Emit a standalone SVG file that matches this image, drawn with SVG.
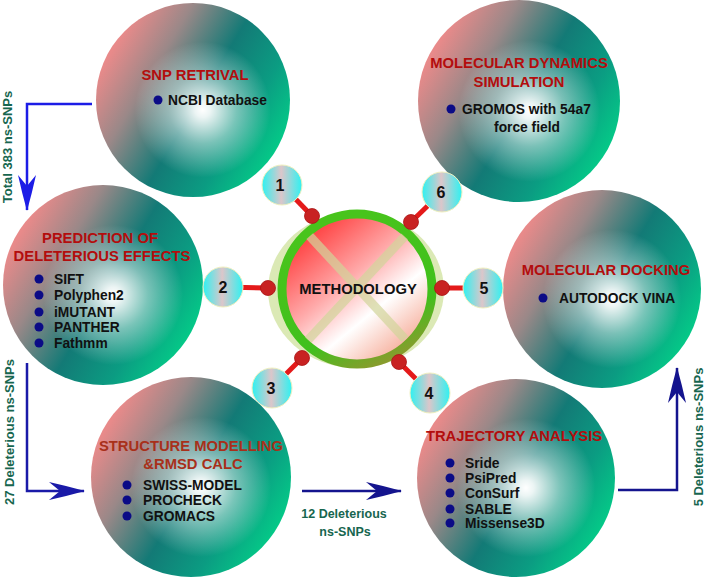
<svg xmlns="http://www.w3.org/2000/svg" width="708" height="577" viewBox="0 0 708 577">
<defs>
<style>
.t{font-family:"Liberation Sans",Arial,sans-serif;font-weight:bold}
.title{font-size:14.8px;fill:#b30d0d;text-anchor:middle}
.title2{font-size:14.8px;fill:#a8301a;text-anchor:middle}
.item{font-size:13.8px;fill:#111}
.lbl{font-size:13px;fill:#17664f;text-anchor:middle}
.num{font-size:16px;fill:#111;text-anchor:middle}
.bul{fill:#0b0b86}
.spoke{stroke:#e41a1a;stroke-width:5}
.dot{fill:#c82222;stroke:#a81414;stroke-width:0.8}
.bub{fill:url(#gBub);stroke:#f0f0c0;stroke-width:1}
.big{fill:url(#gBase)}
.hl{fill:url(#gWhite)}
.arrA{fill:none;stroke:#1c1ce6;stroke-width:2.5}
.arrB{fill:none;stroke:#1a1aa8;stroke-width:2.5}
.arrC{fill:none;stroke:#14148e;stroke-width:2.5}
</style>
<linearGradient id="gBase" x1="0" y1="0.25" x2="1" y2="0.85">
<stop offset="0.06" stop-color="#e88a8a"/>
<stop offset="0.26" stop-color="#9a8888"/>
<stop offset="0.5" stop-color="#137a76"/>
<stop offset="0.72" stop-color="#0b9c82"/>
<stop offset="0.92" stop-color="#04cc88"/>
</linearGradient>
<radialGradient id="gWhite" cx="0.55" cy="0.55" r="0.5">
<stop offset="0" stop-color="#ffffff" stop-opacity="1"/>
<stop offset="0.08" stop-color="#ffffff" stop-opacity="0.92"/>
<stop offset="0.35" stop-color="#ffffff" stop-opacity="0.45"/>
<stop offset="0.7" stop-color="#ffffff" stop-opacity="0"/>
</radialGradient>
<linearGradient id="gBub" x1="0" y1="0" x2="1" y2="0">
<stop offset="0" stop-color="#2ef2f2"/>
<stop offset="0.48" stop-color="#dcc6ca"/>
<stop offset="1" stop-color="#2ef2f2"/>
</linearGradient>
<linearGradient id="gInner" x1="0.15" y1="0.1" x2="0.85" y2="0.95">
<stop offset="0" stop-color="#ff3838"/>
<stop offset="0.4" stop-color="#ffaaaa"/>
<stop offset="0.65" stop-color="#ffffff"/>
<stop offset="1" stop-color="#f5a08a"/>
</linearGradient>
<linearGradient id="gRing" x1="0.3" y1="0.1" x2="0.7" y2="1">
<stop offset="0" stop-color="#48c41c"/>
<stop offset="0.7" stop-color="#40c01c"/>
<stop offset="1" stop-color="#8c9a2e"/>
</linearGradient>
<clipPath id="cpInner"><circle cx="357" cy="289" r="71"/></clipPath>
<marker id="ahA" markerUnits="userSpaceOnUse" markerWidth="36" markerHeight="18" refX="35" refY="9" orient="auto" overflow="visible">
<path d="M36,9 Q18,4 0,0 L11,9 L0,18 Q18,14 36,9 Z" fill="#1c1ce6"/>
</marker>
<marker id="ahB" markerUnits="userSpaceOnUse" markerWidth="36" markerHeight="18" refX="35" refY="9" orient="auto" overflow="visible">
<path d="M36,9 Q18,4 0,0 L11,9 L0,18 Q18,14 36,9 Z" fill="#1a1aa8"/>
</marker>
<marker id="ahC" markerUnits="userSpaceOnUse" markerWidth="36" markerHeight="18" refX="35" refY="9" orient="auto" overflow="visible">
<path d="M36,9 Q18,4 0,0 L11,9 L0,18 Q18,14 36,9 Z" fill="#14148e"/>
</marker>
</defs>

<g id="connectors">
<path class="arrA" d="M92,104 H27 V210" marker-end="url(#ahA)"/>
<path class="arrB" d="M27,363 V491 H84" marker-end="url(#ahB)"/>
<path class="arrC" d="M302,491 H401" marker-end="url(#ahC)"/>
<path class="arrC" d="M618,490 H677 V368" marker-end="url(#ahC)"/>
<line class="spoke" x1="312" y1="216" x2="282" y2="185"/>
<line class="spoke" x1="268" y1="288" x2="223" y2="287"/>
<line class="spoke" x1="302" y1="358" x2="272" y2="388"/>
<line class="spoke" x1="399" y1="362" x2="430" y2="393"/>
<line class="spoke" x1="442" y1="288" x2="483" y2="288"/>
<line class="spoke" x1="411" y1="222" x2="442" y2="192"/>
</g>

<g id="labels">
<text class="t lbl" transform="translate(12,147) rotate(-90)">Total 383 ns-SNPs</text>
<text class="t lbl" transform="translate(14,432) rotate(-90)">27 Deleterious ns-SNPs</text>
<text class="t lbl" transform="translate(703,437) rotate(-90)">5 Deleterious ns-SNPs</text>
<text class="t lbl" style="font-size:12.5px" x="344" y="518">12 Deleterious</text>
<text class="t lbl" style="font-size:12.5px" x="345" y="536">ns-SNPs</text>
</g>

<g id="snp">
<circle class="big" cx="193" cy="100" r="97"/>
<circle class="hl" cx="193" cy="100" r="97"/>
<text class="t title" x="195" y="80">SNP RETRIVAL</text>
<circle class="bul" cx="158" cy="100" r="4.5"/>
<text class="t item" x="168" y="105">NCBI Database</text>
</g>

<g id="prediction">
<circle class="big" cx="103" cy="285" r="100"/>
<circle class="hl" cx="103" cy="285" r="100"/>
<text class="t title" x="100" y="243">PREDICTION OF</text>
<text class="t title" x="102" y="261">DELETERIOUS EFFECTS</text>
<circle class="bul" cx="39" cy="279" r="4.5"/>
<text class="t item" x="54" y="284">SIFT</text>
<circle class="bul" cx="39" cy="295" r="4.5"/>
<text class="t item" x="54" y="300">Polyphen2</text>
<circle class="bul" cx="39" cy="312" r="4.5"/>
<text class="t item" x="54" y="317">iMUTANT</text>
<circle class="bul" cx="39" cy="327" r="4.5"/>
<text class="t item" x="54" y="332">PANTHER</text>
<circle class="bul" cx="39" cy="343" r="4.5"/>
<text class="t item" x="54" y="348">Fathmm</text>
</g>

<g id="structure">
<circle class="big" cx="191" cy="477" r="100"/>
<circle class="hl" cx="191" cy="477" r="100"/>
<text class="t title2" x="191" y="451">STRUCTURE MODELLING</text>
<text class="t title2" x="193" y="469">&amp;RMSD CALC</text>
<circle class="bul" cx="127" cy="485" r="4.5"/>
<text class="t item" x="143" y="490">SWISS-MODEL</text>
<circle class="bul" cx="127" cy="500" r="4.5"/>
<text class="t item" x="143" y="505">PROCHECK</text>
<circle class="bul" cx="127" cy="516" r="4.5"/>
<text class="t item" x="143" y="521">GROMACS</text>
</g>

<g id="trajectory">
<circle class="big" cx="516" cy="478" r="99"/>
<circle class="hl" cx="516" cy="478" r="99"/>
<text class="t title" x="514" y="441">TRAJECTORY ANALYSIS</text>
<circle class="bul" cx="450" cy="463" r="4.5"/>
<text class="t item" x="465" y="468">Sride</text>
<circle class="bul" cx="450" cy="478" r="4.5"/>
<text class="t item" x="465" y="483">PsiPred</text>
<circle class="bul" cx="450" cy="493" r="4.5"/>
<text class="t item" x="465" y="498">ConSurf</text>
<circle class="bul" cx="450" cy="509" r="4.5"/>
<text class="t item" x="465" y="514">SABLE</text>
<circle class="bul" cx="450" cy="523" r="4.5"/>
<text class="t item" x="465" y="528">Missense3D</text>
</g>

<g id="docking">
<circle class="big" cx="602" cy="289" r="99"/>
<circle class="hl" cx="602" cy="289" r="99"/>
<text class="t title" x="606" y="275">MOLECULAR DOCKING</text>
<circle class="bul" cx="543" cy="298" r="4.5"/>
<text class="t item" x="559" y="303">AUTODOCK VINA</text>
</g>

<g id="dynamics">
<circle class="big" cx="519" cy="101" r="101"/>
<circle class="hl" cx="519" cy="101" r="101"/>
<text class="t title" x="519" y="68">MOLECULAR DYNAMICS</text>
<text class="t title" x="519" y="87">SIMULATION</text>
<circle class="bul" cx="451" cy="109" r="4.5"/>
<text class="t item" x="462" y="114">GROMOS with 54a7</text>
<text class="t item" x="527" y="132" text-anchor="middle">force field</text>
</g>

<g id="methodology">
<ellipse cx="356" cy="290" rx="88" ry="78" fill="#dbe9b5"/>
<circle cx="357" cy="289" r="75" fill="url(#gInner)" stroke="url(#gRing)" stroke-width="9"/>
<g clip-path="url(#cpInner)" stroke="#d2d49a" stroke-width="9" stroke-opacity="0.7">
<line x1="305" y1="231" x2="405" y2="339"/>
<line x1="405" y1="236" x2="308" y2="340"/>
</g>
<text class="t" x="358" y="294" font-size="14.8" text-anchor="middle" fill="#111">METHODOLOGY</text>
</g>

<g id="dots">
<circle class="dot" cx="312" cy="216" r="7.5"/>
<circle class="dot" cx="268" cy="288" r="7.5"/>
<circle class="dot" cx="302" cy="358" r="7.5"/>
<circle class="dot" cx="399" cy="362" r="7.5"/>
<circle class="dot" cx="442" cy="288" r="7.5"/>
<circle class="dot" cx="411" cy="222" r="7.5"/>
</g>

<g id="step1"><circle class="bub" cx="282" cy="185" r="20"/><text class="t num" x="280" y="191">1</text></g>
<g id="step2"><circle class="bub" cx="223" cy="287" r="20"/><text class="t num" x="223" y="293">2</text></g>
<g id="step3"><circle class="bub" cx="272" cy="388" r="20"/><text class="t num" x="271" y="394">3</text></g>
<g id="step4"><circle class="bub" cx="430" cy="393" r="20"/><text class="t num" x="429" y="399">4</text></g>
<g id="step5"><circle class="bub" cx="483" cy="288" r="20"/><text class="t num" x="484" y="294">5</text></g>
<g id="step6"><circle class="bub" cx="442" cy="192" r="20"/><text class="t num" x="441" y="198">6</text></g>
</svg>
